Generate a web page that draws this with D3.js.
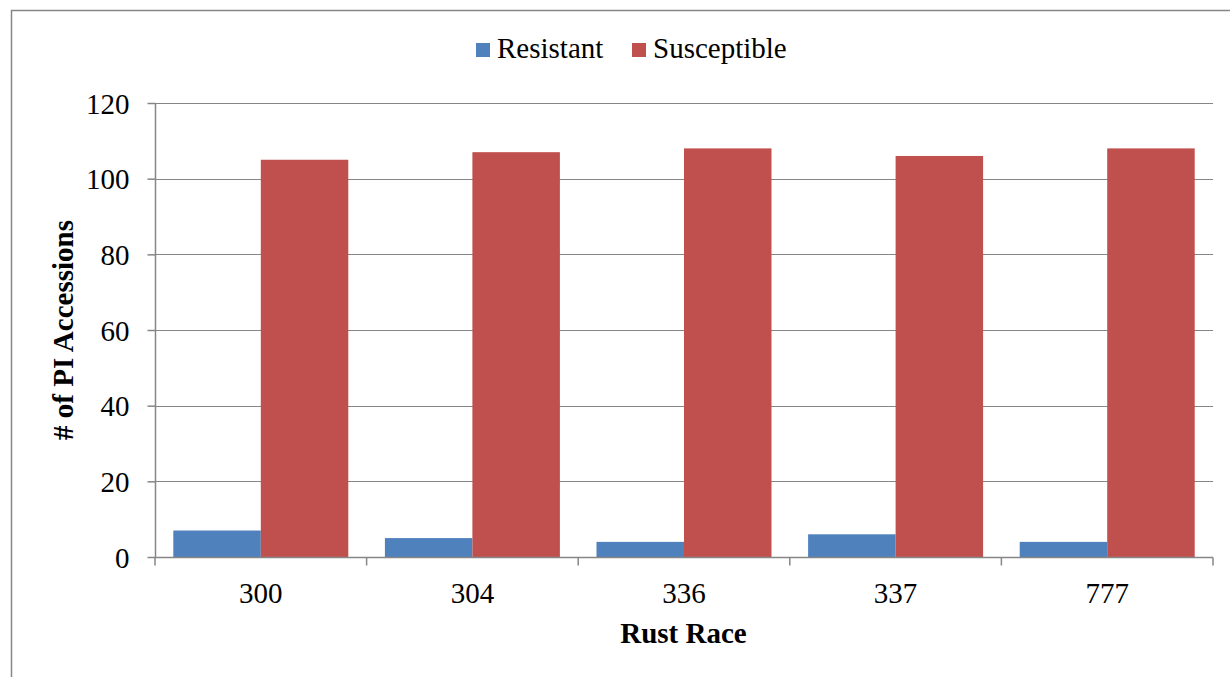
<!DOCTYPE html>
<html><head><meta charset="utf-8">
<script src="https://cdn.jsdelivr.net/npm/d3@7"></script>
<style>body{margin:0;background:#fff}svg{display:block}</style>
</head><body><svg id="c" width="1230" height="677"></svg>
<script>
const categories = ["300","304","336","337","777"];
const seriesNames = ["Resistant","Susceptible"];
const resistant = [7,5,4,6,4];
const susceptible = [105,107,108,106,108];
const yTicks = [0,20,40,60,80,100,120];
const colors = ["#4F81BD","#C0504D"];
const FONT = "'Liberation Serif', 'DejaVu Serif', serif";
const FS = 29;

const svg = d3.select("#c").attr("font-family",FONT);
svg.append("rect").attr("x",11.5).attr("y",10.5).attr("width",1240).attr("height",700)
  .attr("fill","none").attr("stroke","#868686").attr("stroke-width",1.5);

const L=155, R=1213, T=103, B=557;
const y = d3.scaleLinear().domain([0,120]).range([B,T]);
const x0 = d3.scaleBand().domain(categories).range([L,R]).paddingInner(0.173).paddingOuter(0.0865);
const x1 = d3.scaleBand().domain(seriesNames).range([0,x0.bandwidth()]);

svg.append("g").selectAll("line").data(yTicks.filter(d=>d>0)).join("line")
  .attr("x1",L).attr("x2",R).attr("y1",d=>Math.round(y(d))+0.5).attr("y2",d=>Math.round(y(d))+0.5)
  .attr("stroke","#868686").attr("stroke-width",1);

const data = categories.map((c,i)=>({c, vals:[resistant[i],susceptible[i]]}));
const g = svg.append("g");
data.forEach(d=>{
  d.vals.forEach((v,j)=>{
    g.append("rect").attr("x",x0(d.c)+x1(seriesNames[j])).attr("width",x1.bandwidth())
      .attr("y",y(v)).attr("height",B-y(v)).attr("fill",colors[j]);
  });
});

const yAxis = d3.axisLeft(y).tickValues(yTicks).tickSize(8).tickPadding(18);
const ya = svg.append("g").attr("transform",`translate(${L+0.5},0)`).call(yAxis)
  .attr("font-family",FONT).attr("font-size",FS);
ya.selectAll("path,line").attr("stroke","#868686").attr("stroke-width",1.5);
ya.select(".domain").attr("d",`M0,${T}V${B}`);
ya.selectAll("text").attr("fill","#000").attr("font-family",FONT).attr("font-size",FS).attr("dy","0.35em");

const xa = svg.append("g").attr("transform",`translate(0,${B+0.5})`);
xa.append("line").attr("x1",L).attr("x2",R).attr("stroke","#868686").attr("stroke-width",1.5);
const bounds = categories.map(c=>x0(c)-x0.step()*x0.paddingInner()/2).concat([R]);
xa.selectAll("line.t").data(bounds).join("line").attr("class","t")
  .attr("x1",d=>d).attr("x2",d=>d).attr("y1",0).attr("y2",8).attr("stroke","#868686").attr("stroke-width",1.5);
xa.selectAll("text").data(categories).join("text")
  .attr("x",d=>x0(d)+x0.bandwidth()/2).attr("y",45).attr("text-anchor","middle")
  .attr("font-family",FONT).attr("font-size",FS).text(d=>d);

svg.append("text").attr("x",(L+R)/2 - 0.5).attr("y",643).attr("text-anchor","middle")
  .attr("font-family",FONT).attr("font-size",FS).attr("font-weight","bold").text("Rust Race");
svg.append("text").attr("transform",`translate(73,${(T+B)/2}) rotate(-90)`).attr("text-anchor","middle")
  .attr("font-family",FONT).attr("font-size",FS).attr("font-weight","bold").text("# of PI Accessions");

const leg = svg.append("g");
const legX=[476,632];
seriesNames.forEach((s,i)=>{
  leg.append("rect").attr("x",legX[i]).attr("y",43).attr("width",14).attr("height",14).attr("fill",colors[i]);
  leg.append("text").attr("x",legX[i]+21).attr("y",58).attr("font-family",FONT).attr("font-size",FS).text(s);
});
</script></body></html>
